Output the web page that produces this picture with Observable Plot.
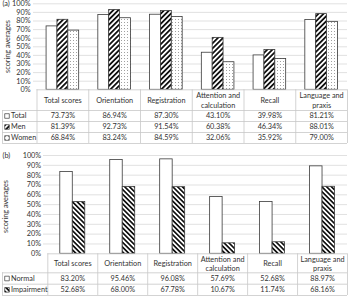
<!DOCTYPE html>
<html>
<head>
<meta charset="utf-8">
<script src="https://cdn.jsdelivr.net/npm/d3@7"></script>
<script src="https://cdn.jsdelivr.net/npm/@observablehq/plot@0.6"></script>
<style>
  body { margin: 0; background: white; }
  #chart svg { display: block; }
</style>
</head>
<body>
<div id="chart"></div>
<script>
// ---- Data ----
const categories = ["Total scores", "Orientation", "Registration", "Attention and\ncalculation", "Recall", "Language and\npraxis"];
const yTicks = [0, 10, 20, 30, 40, 50, 60, 70, 80, 90, 100];

// Panel (a)
const seriesA = ["Total", "Men", "Women"];
const totalValues = [73.73, 86.94, 87.30, 43.10, 39.98, 81.21];
const menValues = [81.39, 92.73, 91.54, 60.38, 46.34, 88.01];
const womenValues = [68.84, 83.24, 84.59, 32.06, 35.92, 79.00];

// Panel (b)
const seriesB = ["Normal", "Impairment"];
const normalValues = [83.20, 95.46, 96.08, 57.69, 52.68, 88.97];
const impairmentValues = [52.68, 68.00, 67.78, 10.67, 11.74, 68.16];

const FONT = "Lato, 'Open Sans', sans-serif";
const TEXT = "#333333";
const LINE = "#c8c8c8";
const FS = 7.3;

function makePanel(cfg) {
  const {label, series, values, fills, H, colStart, y0, yTop, groupFrac,
         gridStartPx, headerBottomPx, rowLinesPx, tickPadding, yLabelPx, panelLabelY, pid} = cfg;
  const right = 347;
  const colW = (right - colStart) / categories.length;
  const pxPer = (y0 - yTop) / 100;
  const px2x = px => (px - colStart) / colW;
  const px2y = py => (y0 - py) / pxPer;
  const n = series.length;
  const barW = groupFrac / n;

  const barMarks = series.map((s, si) => {
    const data = values[si].map((v, ci) => ({
      x1: ci + 0.5 - groupFrac / 2 + si * barW,
      x2: ci + 0.5 - groupFrac / 2 + (si + 1) * barW,
      v
    }));
    return Plot.rectY(data, {x1: "x1", x2: "x2", y1: 0, y2: "v", fill: fills[si], stroke: "#3a3a3a", strokeWidth: 0.8});
  });

  const lines = [headerBottomPx, ...rowLinesPx];
  const hLines = lines.map(p => ({y: px2y(p)}));
  const colBounds = d3.range(categories.length + 1).map(i => ({x: i}));
  const tableBottom = px2y(lines[lines.length - 1]);
  const headerBottom = px2y(headerBottomPx);
  const rowCenters = lines.slice(0, -1).map((p, i) => px2y((p + lines[i + 1]) / 2));

  const cells = [];
  series.forEach((s, si) => values[si].forEach((v, ci) => cells.push({x: ci + 0.5, y: rowCenters[si], t: v.toFixed(2) + "%"})));
  const legendRows = series.map((s, si) => ({s, y: rowCenters[si], fill: fills[si]}));

  const svg = Plot.plot({
    width: 350,
    height: H,
    marginLeft: colStart,
    marginRight: 350 - right,
    marginTop: yTop,
    marginBottom: H - y0,
    style: {fontFamily: FONT, fontSize: FS + "px", color: TEXT, background: "white", overflow: "visible"},
    x: {type: "linear", domain: [0, categories.length], axis: null},
    y: {type: "linear", domain: [0, 100], ticks: yTicks, tickFormat: d => d + "%", tickSize: 0, tickPadding, label: null},
    marks: [
      Plot.ruleY(yTicks.filter(t => t > 0), {x1: px2x(gridStartPx), x2: categories.length, stroke: "#d9d9d9", strokeWidth: 0.8}),
      ...barMarks,
      Plot.ruleY([0], {x1: 0, x2: categories.length, stroke: LINE, strokeWidth: 0.8}),
      Plot.ruleY(hLines, {y: "y", x1: px2x(2), x2: categories.length, stroke: LINE, strokeWidth: 0.8}),
      Plot.ruleX(colBounds, {x: "x", y1: 0, y2: tableBottom, stroke: LINE, strokeWidth: 0.8}),
      Plot.ruleX([px2x(2)], {y1: headerBottom, y2: tableBottom, stroke: LINE, strokeWidth: 0.8}),
      Plot.text(categories, {x: (d, i) => i + 0.5, y: px2y((y0 + headerBottomPx) / 2), text: d => d, fill: TEXT, lineHeight: 1.3, fontSize: FS}),
      Plot.text(cells, {x: "x", y: "y", text: "t", fill: TEXT, fontSize: FS}),
      ...legendRows.map(r => Plot.dot([r], {x: px2x(6.5), y: "y", symbol: "square", r: 2.6, fill: r.fill, stroke: "#3a3a3a", strokeWidth: 0.7})),
      Plot.text(legendRows, {x: px2x(10.5), y: "y", text: "s", textAnchor: "start", fill: TEXT, fontSize: FS}),
      Plot.text([0], {x: px2x(yLabelPx[0]), y: px2y(yLabelPx[1]), text: () => "scoring averages", rotate: -90, fill: TEXT, fontSize: FS}),
      Plot.text([0], {x: px2x(2), y: px2y(panelLabelY), text: () => label, textAnchor: "start", fill: TEXT, fontSize: FS})
    ]
  });

  const defs = d3.select(svg).insert("defs", ":first-child");
  const hA = defs.append("pattern").attr("id", "hatchUp").attr("patternUnits", "userSpaceOnUse")
    .attr("width", 3.6).attr("height", 3.6).attr("patternTransform", "rotate(45)");
  hA.append("rect").attr("width", 3.6).attr("height", 3.6).attr("fill", "white");
  hA.append("rect").attr("width", 1.8).attr("height", 3.6).attr("fill", "#111");
  const hB = defs.append("pattern").attr("id", "hatchDown").attr("patternUnits", "userSpaceOnUse")
    .attr("width", 3.4).attr("height", 3.4).attr("patternTransform", "rotate(-45)");
  hB.append("rect").attr("width", 3.4).attr("height", 3.4).attr("fill", "white");
  hB.append("rect").attr("width", 1.7).attr("height", 3.4).attr("fill", "#111");
  const dp = defs.append("pattern").attr("id", "dots").attr("patternUnits", "userSpaceOnUse")
    .attr("width", 3).attr("height", 3);
  dp.append("rect").attr("width", 3).attr("height", 3).attr("fill", "white");
  dp.append("rect").attr("x", 1).attr("y", 1).attr("width", 0.9).attr("height", 0.9).attr("fill", "#8a8a8a");
  return svg;
}

const panelA = makePanel({
  label: "(a)",
  series: seriesA,
  values: [totalValues, menValues, womenValues],
  fills: ["white", "url(#hatchUp)", "url(#dots)"],
  H: 145, colStart: 36.5, y0: 89.3, yTop: 3.3, groupFrac: 0.63,
  gridStartPx: 33, headerBottomPx: 110, rowLinesPx: [121, 132, 143],
  tickPadding: 6.5, yLabelPx: [7, 46], panelLabelY: 3.5
});
const panelB = makePanel({
  label: "(b)",
  series: seriesB,
  values: [normalValues, impairmentValues],
  fills: ["white", "url(#hatchDown)"],
  H: 153, colStart: 47.3, y0: 108.3, yTop: 10, groupFrac: 0.5,
  gridStartPx: 43, headerBottomPx: 127.3, rowLinesPx: [138.7, 150],
  tickPadding: 6.6, yLabelPx: [5, 61], panelLabelY: 10
});
document.getElementById("chart").append(panelA, panelB);
</script>
</body>
</html>
